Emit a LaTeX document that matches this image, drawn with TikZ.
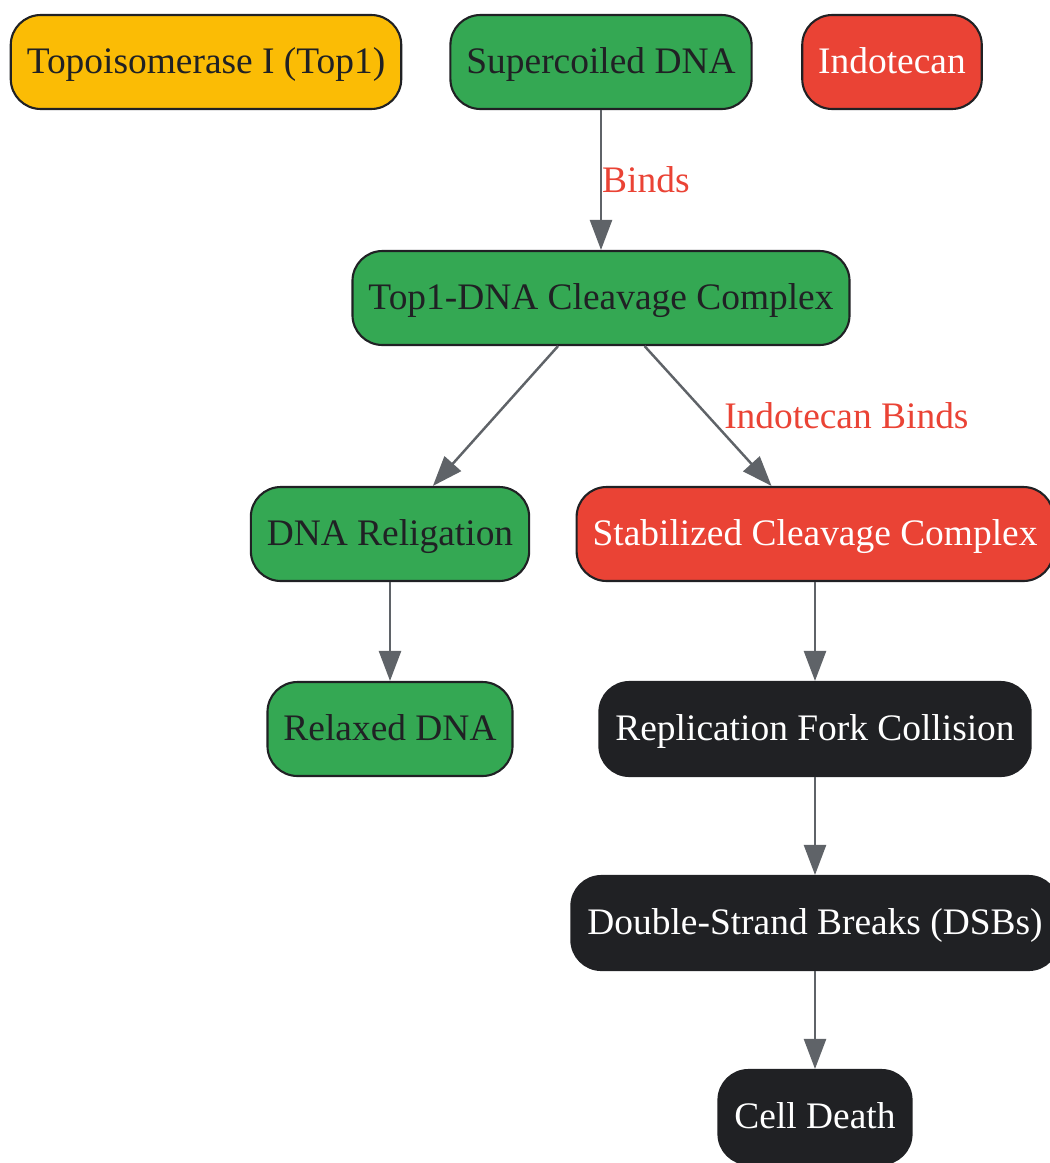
\documentclass[tikz,border=0pt]{standalone}
\usepackage{fontspec}
\setmainfont{Liberation Serif}
\usepackage{xcolor}
\usepackage{tikz}
\usetikzlibrary{arrows.meta,positioning}

\definecolor{topyellow}{HTML}{FBBC05}
\definecolor{dnagreen}{HTML}{34A853}
\definecolor{drugred}{HTML}{EA4335}
\definecolor{deathdark}{HTML}{202124}
\definecolor{edgegray}{HTML}{5F6368}

\tikzset{
    box/.style={draw=deathdark, line width=1.2pt, rounded corners=0.6cm,
        minimum height=1.88cm, inner xsep=0.32cm,
        font=\fontsize{21.3}{25}\selectfont, text height=1.36em, text depth=0.08em},
    yellowbox/.style={box, fill=topyellow, text=deathdark},
    greenbox/.style={box, fill=dnagreen, text=deathdark},
    redbox/.style={box, fill=drugred, text=white},
    darkbox/.style={box, fill=deathdark, text=white},
    flow/.style={draw=edgegray, line width=1.4pt, -{Triangle[length=0.6cm,width=0.44cm]}},
    lbl/.style={text=drugred, font=\fontsize{21.3}{25}\selectfont, inner sep=0pt, anchor=west}
}

\begin{document}
\begin{tikzpicture}[x=0.02cm,y=-0.02cm]
    \useasboundingbox (0,0) rectangle (1049,1163);

    % top row
    \node[yellowbox] (top1) at (206,62) {Topoisomerase I (Top1)};
    \node[greenbox] (scdna) at (601,62) {Supercoiled DNA};
    \node[redbox] (indo) at (892,62) {Indotecan};

    % cleavage complex and branches
    \node[greenbox] (cplx) at (601,298) {Top1-DNA Cleavage Complex};
    \node[greenbox] (relig) at (390,534) {DNA Religation};
    \node[redbox] (stab) at (815,534) {Stabilized Cleavage Complex};
    \node[greenbox] (relax) at (390,729) {Relaxed DNA};
    \node[darkbox] (fork) at (815,729) {Replication Fork Collision};
    \node[darkbox] (dsb) at (815,923) {Double-Strand Breaks (DSBs)};
    \node[darkbox] (death) at (815,1117) {Cell Death};

    \draw[flow] (scdna) -- node[lbl] {Binds} (cplx);
    \draw[flow] (cplx) -- (relig);
    \draw[flow] (cplx) -- node[lbl, xshift=0.3cm] {Indotecan Binds} (stab);
    \draw[flow] (relig) -- (relax);
    \draw[flow] (stab) -- (fork);
    \draw[flow] (fork) -- (dsb);
    \draw[flow] (dsb) -- (death);
\end{tikzpicture}
\end{document}
